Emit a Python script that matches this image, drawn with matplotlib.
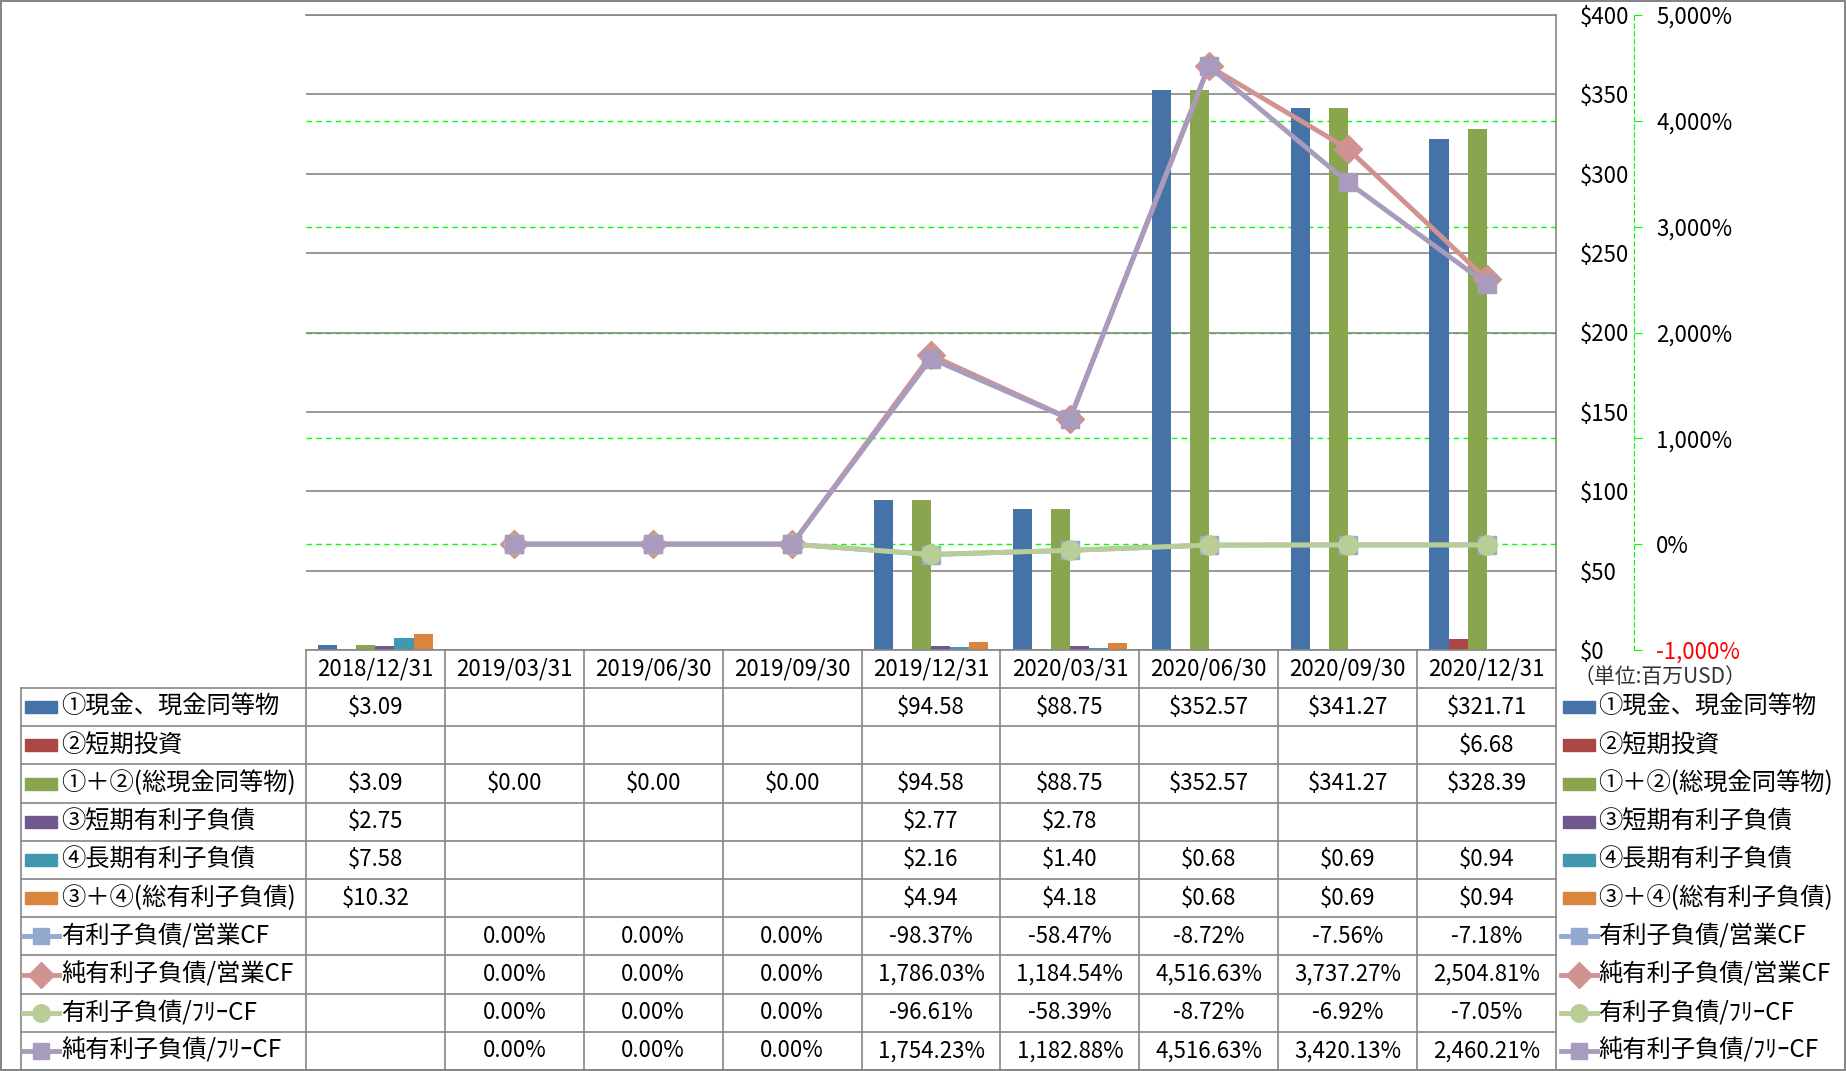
import numpy as np
import matplotlib
matplotlib.use('Agg')
import matplotlib.pyplot as plt
from matplotlib.patches import Rectangle
from matplotlib.lines import Line2D

plt.rcParams['font.family'] = ['Noto Sans CJK JP', 'DejaVu Sans']

# ---- data ----
dates = ['2018/12/31', '2019/03/31', '2019/06/30', '2019/09/30', '2019/12/31',
         '2020/03/31', '2020/06/30', '2020/09/30', '2020/12/31']

bar_names = ['①現金、現金同等物', '②短期投資', '①＋②(総現金同等物)',
             '③短期有利子負債', '④長期有利子負債', '③＋④(総有利子負債)']
cash = [3.09, None, None, None, 94.58, 88.75, 352.57, 341.27, 321.71]
short_inv = [None, None, None, None, None, None, None, None, 6.68]
total_cash = [3.09, 0.00, 0.00, 0.00, 94.58, 88.75, 352.57, 341.27, 328.39]
short_debt = [2.75, None, None, None, 2.77, 2.78, None, None, None]
long_debt = [7.58, None, None, None, 2.16, 1.40, 0.68, 0.69, 0.94]
total_debt = [10.32, None, None, None, 4.94, 4.18, 0.68, 0.69, 0.94]
bar_data = [cash, short_inv, total_cash, short_debt, long_debt, total_debt]
bar_colors = ['#4572A7', '#AA4643', '#89A54E', '#71588F', '#4198AF', '#DB843D']

line_names = ['有利子負債/営業CF', '純有利子負債/営業CF', '有利子負債/ﾌﾘｰCF', '純有利子負債/ﾌﾘｰCF']
debt_ocf = [None, 0.00, 0.00, 0.00, -98.37, -58.47, -8.72, -7.56, -7.18]
net_debt_ocf = [None, 0.00, 0.00, 0.00, 1786.03, 1184.54, 4516.63, 3737.27, 2504.81]
debt_fcf = [None, 0.00, 0.00, 0.00, -96.61, -58.39, -8.72, -6.92, -7.05]
net_debt_fcf = [None, 0.00, 0.00, 0.00, 1754.23, 1182.88, 4516.63, 3420.13, 2460.21]
line_data = [debt_ocf, net_debt_ocf, debt_fcf, net_debt_fcf]
line_colors = ['#93A9CF', '#D09392', '#B9CD96', '#A99BBD']
line_markers = ['s', 'D', 'o', 's']

# ---- layout (pixels) ----
W, H = 1846, 1071
L, R, T, B = 306, 1556, 15, 650
ROW0, ROWH = 688, 38.2
GRAY = '#868686'


def fx(x):
    return x / W


def fy(y):
    return 1 - y / H


fig = plt.figure(figsize=(W / 100, H / 100), dpi=100)
fig.patch.set_edgecolor(GRAY)
fig.patch.set_linewidth(1.5)

ax = fig.add_axes([fx(L), fy(B), (R - L) / W, (B - T) / H])
axg = ax.twinx()
ax2 = ax.twinx()
axg.set_zorder(0)
ax.set_zorder(1)
ax2.set_zorder(2)
ax.patch.set_visible(False)
ax2.patch.set_visible(False)

n = len(dates)
x = np.arange(n)

# green dashed grid of the secondary axis (behind bars)
axg.set_ylim(-1000, 5000)
axg.set_yticks(range(0, 5000, 1000))
axg.yaxis.grid(True, color='#00FF00', linestyle=(0, (4, 3)), linewidth=1)
axg.tick_params(axis='y', length=0, labelright=False, labelleft=False)
for s in axg.spines.values():
    s.set_visible(False)

# primary axis
ax.set_xlim(-0.5, n - 0.5)
ax.set_ylim(0, 400)
ax.set_yticks(range(0, 401, 50))
ax.set_yticklabels([f'${v}' for v in range(0, 401, 50)])
ax.yaxis.tick_right()
ax.tick_params(axis='y', length=0, pad=17, labelsize=16)
ax.set_xticks([])
ax.yaxis.grid(True, color=GRAY, linewidth=1.2)
ax.set_axisbelow(True)
ax.spines['left'].set_visible(False)
for k in ['top', 'right', 'bottom']:
    ax.spines[k].set_color(GRAY)
    ax.spines[k].set_linewidth(1.2)

w = 0.137
for k, (vals, c) in enumerate(zip(bar_data, bar_colors)):
    off = (k - 2.5) * w
    xs = [xi + off for xi, v in zip(x, vals) if v is not None]
    hs = [v for v in vals if v is not None]
    ax.bar(xs, hs, w, color=c, zorder=2)

# secondary axis
ax2.set_ylim(-1000, 5000)
ax2.set_yticks(range(-1000, 5001, 1000))
ax2.set_yticklabels([f'{v:,}%' for v in range(-1000, 5001, 1000)])
ax2.spines['right'].set_position(('axes', (1634 - L) / (R - L)))
ax2.spines['right'].set_color('#00FF00')
ax2.spines['right'].set_linestyle((0, (4, 3)))
for k in ['left', 'top', 'bottom']:
    ax2.spines[k].set_visible(False)
ax2.tick_params(axis='y', colors='#00FF00', length=6, pad=10, labelsize=16)
for t in ax2.get_yticklabels():
    t.set_color('black')
ax2.get_yticklabels()[0].set_color('red')

msizes = [13, 14.5, 14, 13]
for vals, c, m, ms in zip(line_data, line_colors, line_markers, msizes):
    ys = np.array([np.nan if v is None else v for v in vals])
    ax2.plot(x, ys, color=c, lw=3.5, marker=m, ms=ms, mec=c, mfc=c, clip_on=False)

# ---- data table ----
col_edges = [L + (R - L) / n * k for k in range(n + 1)]
col_centers = [(col_edges[k] + col_edges[k + 1]) / 2 for k in range(n)]
nrows = len(bar_names) + len(line_names)
row_edges = [ROW0 + ROWH * r for r in range(nrows + 1)]


def hline(x0, x1, y):
    fig.add_artist(Line2D([fx(x0), fx(x1)], [fy(y), fy(y)], color=GRAY, lw=1.2,
                          transform=fig.transFigure))


def vline(xx, y0, y1):
    fig.add_artist(Line2D([fx(xx), fx(xx)], [fy(y0), fy(y1)], color=GRAY, lw=1.2,
                          transform=fig.transFigure))


for ce in col_edges:
    vline(ce, B, row_edges[-1])
vline(21, ROW0, row_edges[-1])
for re in row_edges:
    hline(21, R, re)

for c, d in zip(col_centers, dates):
    fig.text(fx(c), fy((B + ROW0) / 2), d, ha='center', va='center', fontsize=16)


def fmt_money(v):
    return '' if v is None else f'${v:,.2f}'


def fmt_pct(v):
    return '' if v is None else f'{v:,.2f}%'


def draw_key(x0, yc, kind, color, marker=None, ms=None):
    if kind == 'bar':
        fig.add_artist(Rectangle((fx(x0 + 2), fy(yc + 6)), 32 / W, 12 / H,
                                 color=color, transform=fig.transFigure))
    else:
        fig.add_artist(Line2D([fx(x0), fx(x0 + 36)], [fy(yc), fy(yc)], color=color,
                              lw=3.5, transform=fig.transFigure))
        fig.add_artist(Line2D([fx(x0 + 18)], [fy(yc)], color=color, marker=marker,
                              ms=ms * 0.9, mec=color, transform=fig.transFigure))


rows = ([(nm, vals, 'bar', c, None, None, fmt_money)
         for nm, vals, c in zip(bar_names, bar_data, bar_colors)] +
        [(nm, vals, 'line', c, m, ms, fmt_pct)
         for nm, vals, c, m, ms in zip(line_names, line_data, line_colors, line_markers, msizes)])

for r, (nm, vals, kind, c, m, ms, f) in enumerate(rows):
    yc = (row_edges[r] + row_edges[r + 1]) / 2
    draw_key(23, yc, kind, c, m, ms)
    fig.text(fx(61), fy(yc), nm, ha='left', va='center', fontsize=17.5)
    for cc, v in zip(col_centers, vals):
        fig.text(fx(cc), fy(yc), f(v), ha='center', va='center', fontsize=16)
    # right-hand legend
    draw_key(1561, yc, kind, c, m, ms)
    fig.text(fx(1598), fy(yc), nm, ha='left', va='center', fontsize=17.5)

fig.text(fx(1574), fy(677), '（単位:百万USD）', ha='left', va='center', fontsize=15,
         color='#333333')

fig.savefig('out.png', dpi=100, edgecolor=fig.get_edgecolor())
